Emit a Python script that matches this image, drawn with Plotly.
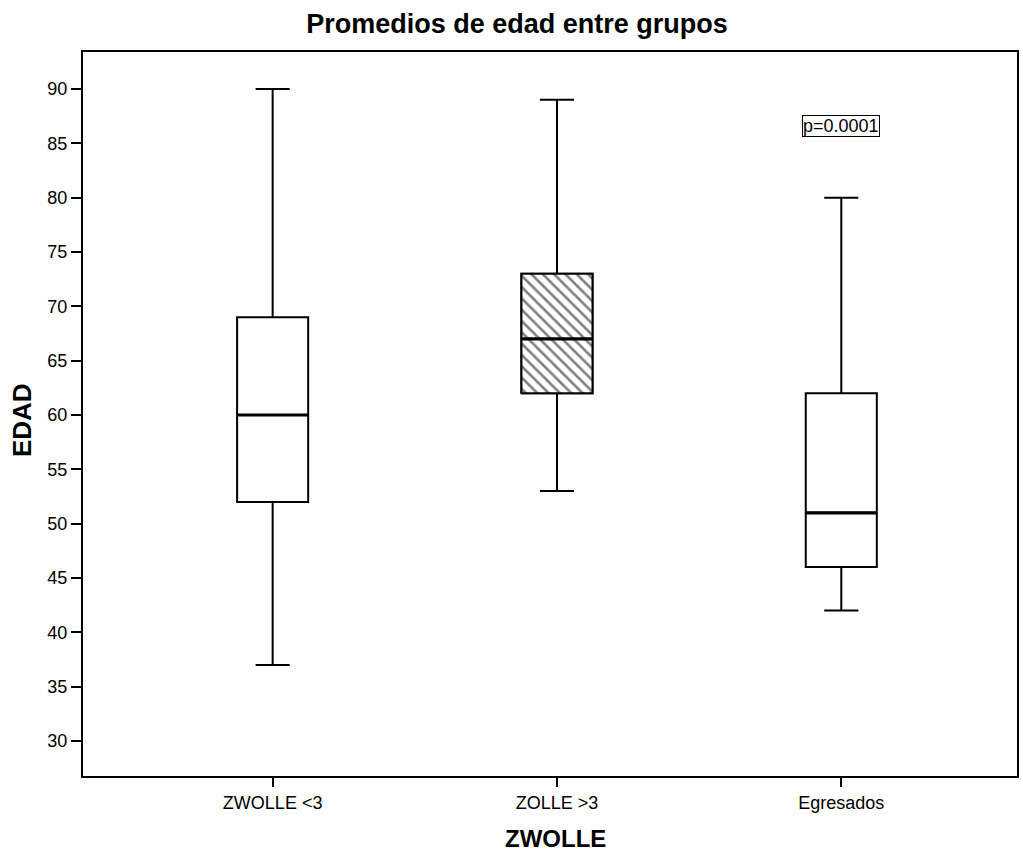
import plotly.graph_objects as go

# ---- data ----
groups = ["ZWOLLE <3", "ZOLLE >3", "Egresados"]
lower = [37, 53, 42]
q1 = [52, 62, 46]
median = [60, 67, 51]
q3 = [69, 73, 62]
upper = [90, 89, 80]
hatched = [False, True, False]
y_ticks = [30, 35, 40, 45, 50, 55, 60, 65, 70, 75, 80, 85, 90]
p_label = "p=0.0001"
p_y = 86.6

pos = list(range(len(groups)))
box_w = 0.25
hw = box_w / 2
FONT = "Liberation Sans, Arial, sans-serif"

fig = go.Figure()

fig.add_trace(go.Box(
    x=pos, q1=q1, median=median, q3=q3, lowerfence=lower, upperfence=upper,
    width=box_w, whiskerwidth=0.48, boxpoints=False,
    fillcolor="rgba(0,0,0,0)", line=dict(color="black", width=2),
    showlegend=False, hoverinfo="skip",
))

# hatched boxes
for i, h in enumerate(hatched):
    if h:
        fig.add_trace(go.Scatter(
            x=[pos[i] - hw, pos[i] + hw, pos[i] + hw, pos[i] - hw, pos[i] - hw],
            y=[q1[i], q1[i], q3[i], q3[i], q1[i]],
            mode="lines", fill="toself",
            fillpattern=dict(shape="\\", fgcolor="black", bgcolor="white", size=8, solidity=0.32),
            fillcolor="white",
            line=dict(color="black", width=2),
            showlegend=False, hoverinfo="skip",
        ))

# thick median lines
mx, my = [], []
for i in pos:
    mx += [i - hw, i + hw, None]
    my += [median[i], median[i], None]
fig.add_trace(go.Scatter(x=mx, y=my, mode="lines", line=dict(color="black", width=3.2),
                         showlegend=False, hoverinfo="skip"))

fig.add_annotation(x=pos[2], y=p_y, xref="x", yref="y", text=p_label, showarrow=False,
                   font=dict(family=FONT, size=18, color="black"),
                   bordercolor="black", borderwidth=1, borderpad=0, bgcolor="white")

fig.add_annotation(xref="paper", yref="paper", x=-0.0652, y=0.4917, text="<b>EDAD</b>",
                   textangle=-90, showarrow=False, xanchor="center", yanchor="middle",
                   font=dict(family=FONT, size=26, color="black"))
fig.add_annotation(xref="paper", yref="paper", x=0.5064, y=-0.0857, text="<b>ZWOLLE</b>",
                   showarrow=False, xanchor="center", yanchor="middle",
                   font=dict(family=FONT, size=24, color="black"))

fig.update_layout(
    width=1023, height=851,
    margin=dict(l=83, r=4, t=52, b=75),
    paper_bgcolor="white", plot_bgcolor="white",
    title=dict(text="<b>Promedios de edad entre grupos</b>", x=0.5054, xanchor="center",
               y=1 - 24 / 851, yanchor="middle", xref="container", yref="container",
               font=dict(family=FONT, size=27, color="black")),
    font=dict(family=FONT, color="black"),
    xaxis=dict(range=[-0.667, 2.618], tickvals=pos, ticktext=groups, showgrid=False,
               zeroline=False, showline=True, linecolor="black", linewidth=2, mirror=True,
               ticks="outside", ticklen=9, tickwidth=2, tickcolor="black",
               tickfont=dict(family=FONT, size=18, color="black")),
    yaxis=dict(range=[26.78, 93.4], tickvals=y_ticks, showgrid=False, zeroline=False,
               showline=True, linecolor="black", linewidth=2, mirror=True,
               ticks="outside", ticklen=10, tickwidth=2, tickcolor="black",
               tickfont=dict(family=FONT, size=18, color="black")),
)

fig.write_html("out.html")
